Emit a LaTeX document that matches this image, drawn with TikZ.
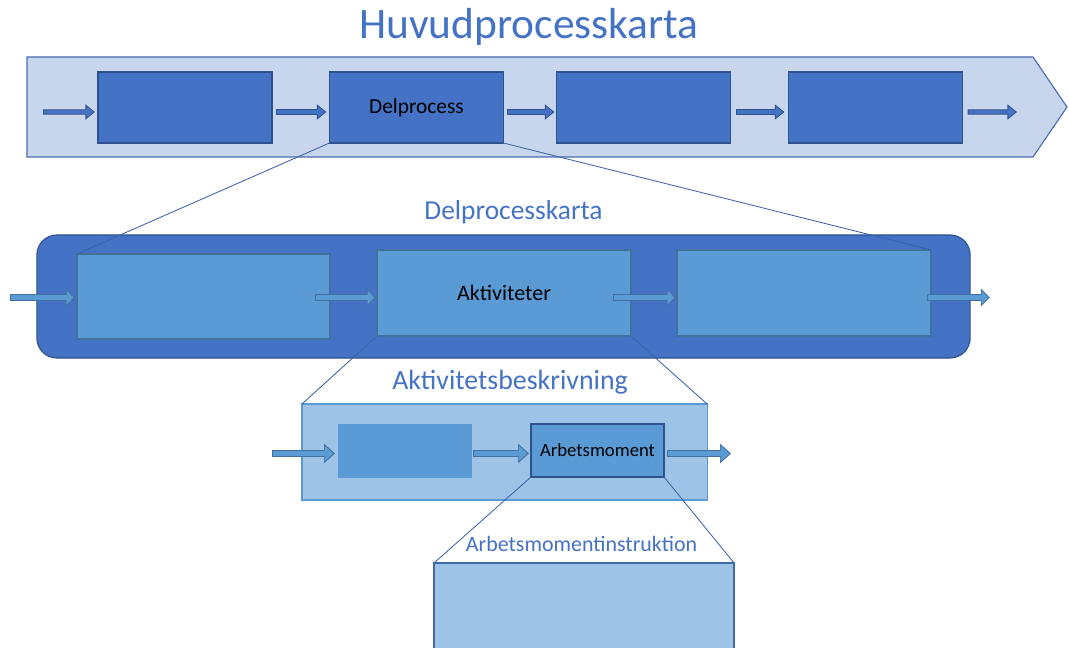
\documentclass[tikz,border=0pt]{standalone}
\usepackage{fontspec}
\setmainfont{Carlito}
\usetikzlibrary{arrows.meta,positioning}
\definecolor{blueA}{HTML}{4472C4}
\definecolor{blueAdark}{HTML}{2F528F}
\definecolor{blueB}{HTML}{5B9BD5}
\definecolor{blueBdark}{HTML}{41719C}
\definecolor{blueC}{HTML}{9DC3E6}
\definecolor{blueCdark}{HTML}{3E6AAE}
\definecolor{blueL}{HTML}{C7D5ED}
\definecolor{blueLdark}{HTML}{4A6DAE}
\definecolor{blueLink}{HTML}{3B62A8}

\begin{document}
\begin{tikzpicture}[x=0.025cm,y=-0.025cm]
\useasboundingbox (0,0) rectangle (1069,648);

% definitions
\tikzstyle{boxA} = [rectangle, minimum width=4.35cm, minimum height=1.775cm, inner sep=0pt, outer sep=0pt, draw=blueAdark, line width=0.8pt, fill=blueA, font=\fontsize{15.2}{18}\selectfont]

\tikzstyle{boxB} = [rectangle, minimum width=6.35cm, minimum height=2.15cm, inner sep=0pt, outer sep=0pt, draw=blueBdark, line width=0.8pt, fill=blueB, font=\fontsize{15.7}{18}\selectfont]

\tikzstyle{boxC} = [rectangle, minimum height=1.35cm, inner sep=0pt, outer sep=0pt, fill=blueB, font=\fontsize{13.3}{16}\selectfont]

\tikzstyle{heading} = [anchor=base, inner sep=0pt, text=blueA]

\tikzstyle{flowA} = [draw=blueAdark, line width=3.9pt, -{Triangle[length=6.8pt,width=10.5pt]}, postaction={draw=blueA, line width=2.4pt, -{Triangle[length=5pt,width=7.8pt]}, shorten >=1.1pt, shorten <=0.7pt}]

\tikzstyle{flowB} = [draw=blueBdark, line width=5pt, -{Triangle[length=6.5pt,width=12.5pt]}, postaction={draw=blueB, line width=3.5pt, -{Triangle[length=4.9pt,width=9.8pt]}, shorten >=1.1pt, shorten <=0.7pt}]

\tikzstyle{flowC} = [draw=blueBdark, line width=5pt, -{Triangle[length=7.8pt,width=13.5pt]}, postaction={draw=blueB, line width=3.5pt, -{Triangle[length=6.1pt,width=10.8pt]}, shorten >=1.2pt, shorten <=0.7pt}]

\tikzstyle{link} = [draw=blueLink, line width=0.6pt]


% huvudprocesskarta
\draw [draw=blueLdark, line width=0.8pt, fill=blueL] (27,57) -- (1033,57) -- (1067,107) -- (1033,157) -- (27,157) -- cycle;

\node (hk) [heading, font=\fontsize{30.9}{36}\selectfont] at (529,39) {Huvudprocesskarta};

\node (p1) [boxA] at (185,107.5) {};
\node (p2) [boxA] at (416.5,107.5) {Delprocess};
\node (p3) [boxA] at (643.5,107.5) {};
\node (p4) [boxA] at (875.5,107.5) {};

\coordinate (tin) at (43,112);
\coordinate (tout) at (1017,112);

\draw [flowA] (tin) -- ([shift={(-3,4.5)}]p1.west);
\draw [flowA] ([shift={(4,4.5)}]p1.east) -- ([shift={(-3,4.5)}]p2.west);
\draw [flowA] ([shift={(3,4.5)}]p2.east) -- ([shift={(-2,4.5)}]p3.west);
\draw [flowA] ([shift={(5,4.5)}]p3.east) -- ([shift={(-4,4.5)}]p4.west);
\draw [flowA] ([shift={(5,4.5)}]p4.east) -- (tout);


% delprocesskarta
\node (dk) [heading, font=\fontsize{19.5}{24}\selectfont] at (513.5,219.5) {Delprocesskarta};

\node (dkbox) [rectangle, rounded corners=0.5cm, minimum width=23.325cm, minimum height=3.075cm, outer sep=0pt, draw=blueAdark, line width=0.8pt, fill=blueA] at (503.5,296.5) {};

\node (a1) [boxB, minimum width=6.325cm, minimum height=2.125cm] at (203.5,296.5) {};
\node (a2) [boxB] at (504,293) {Aktiviteter};
\node (a3) [boxB] at (804,293) {};

\coordinate (min) at (10,297.5);
\coordinate (mout) at (990,297.5);

\draw [flowB] (min) -- ([shift={(-2,1)}]a1.west);
\draw [flowB] ([shift={(-15,1)}]a1.east) -- ([shift={(-1,4.5)}]a2.west);
\draw [flowB] ([shift={(-18,4.5)}]a2.east) -- ([shift={(-1,4.5)}]a3.west);
\draw [flowB] ([shift={(-4,4.5)}]a3.east) -- (mout);


% aktivitetsbeskrivning
\node (ab) [heading, font=\fontsize{19.8}{24}\selectfont] at (510,389) {Aktivitetsbeskrivning};

\node (abbox) [rectangle, minimum width=10.125cm, minimum height=2.4cm, outer sep=0pt, draw=blueB, line width=0.8pt, fill=blueC] at (504.5,452) {};

\node (b1) [boxC, minimum width=3.35cm] at (405,451) {};
\node (arb) [boxC, minimum width=3.325cm, minimum height=1.325cm, draw=blueAdark, line width=1pt] at (597.5,450.5) {Arbetsmoment};

\coordinate (lin) at (272,453.5);
\coordinate (lout) at (731,453.5);

\draw [flowC] (lin) -- ([shift={(-3,2.5)}]b1.west);
\draw [flowC] ([shift={(1,2.5)}]b1.east) -- ([shift={(-2,3)}]arb.west);
\draw [flowC] ([shift={(3,3)}]arb.east) -- (lout);


% arbetsmomentinstruktion
\node (ai) [heading, font=\fontsize{15.6}{19}\selectfont] at (581.5,551.5) {Arbetsmomentinstruktion};

\node (aibox) [rectangle, minimum width=7.5cm, minimum height=2.425cm, outer sep=0pt, draw=blueCdark, line width=0.8pt, fill=blueC] at (584,611.5) {};


% zoom lines
\draw [link] (p2.south west) -- (a1.north west);
\draw [link] (p2.south east) -- (a3.north east);
\draw [link] (a2.south west) -- (abbox.north west);
\draw [link] (a2.south east) -- (abbox.north east);
\draw [link] (arb.south west) -- (aibox.north west);
\draw [link] (arb.south east) -- (aibox.north east);

\end{tikzpicture}
\end{document}
